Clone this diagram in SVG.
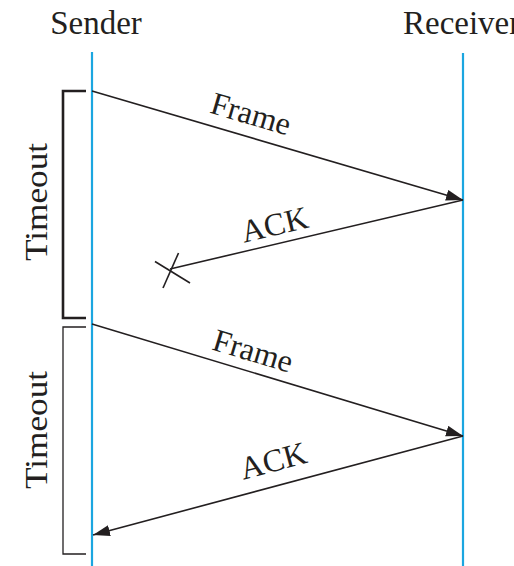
<svg xmlns="http://www.w3.org/2000/svg" width="514" height="566" viewBox="0 0 514 566">
<style>
text{font-family:"Liberation Serif","DejaVu Serif",serif;fill:#231f20}
.title{font-size:33px}
.lbl{font-size:32px}
.life{stroke:#1ba6e0;stroke-width:2.2;fill:none}
.msg{stroke:#231f20;stroke-width:1.6;fill:none}
</style>
<defs>
<marker id="ah" markerUnits="userSpaceOnUse" markerWidth="18" markerHeight="12" refX="17" refY="5.5" orient="auto">
<path d="M0,0 L17,5.5 L0,11 Z" fill="#231f20"/>
</marker>
</defs>
<g id="sender">
<text class="title" x="96" y="34" text-anchor="middle">Sender</text>
<line class="life" x1="92" y1="52" x2="92" y2="566"/>
</g>
<g id="receiver">
<text class="title" x="403" y="34">Receiver</text>
<line class="life" x1="463" y1="53" x2="463" y2="566"/>
</g>
<g id="timeout1">
<path d="M86,91 H63 V318 H86" fill="none" stroke="#231f20" stroke-width="2.6"/>
<text class="lbl" transform="translate(47,202) rotate(-90)" text-anchor="middle" textLength="118" lengthAdjust="spacingAndGlyphs">Timeout</text>
</g>
<g id="timeout2">
<path d="M86,327 H63 V554 H86" fill="none" stroke="#231f20" stroke-width="1.3"/>
<text class="lbl" transform="translate(47,430) rotate(-90)" text-anchor="middle" textLength="118" lengthAdjust="spacingAndGlyphs">Timeout</text>
</g>
<g id="connectors">
<line class="msg" x1="92" y1="91" x2="463" y2="200" marker-end="url(#ah)"/>
<line class="msg" x1="463" y1="200" x2="170" y2="269"/>
<line class="msg" x1="155" y1="261.5" x2="190" y2="283"/>
<line class="msg" x1="178.5" y1="253" x2="163" y2="288"/>
<line class="msg" x1="92" y1="324" x2="463" y2="436" marker-end="url(#ah)"/>
<line class="msg" x1="463" y1="436" x2="93" y2="535" marker-end="url(#ah)"/>
</g>
<g id="labels">
<text class="lbl" transform="translate(248,124) rotate(16.4)" text-anchor="middle">Frame</text>
<text class="lbl" transform="translate(277,235) rotate(-13.3)" text-anchor="middle">ACK</text>
<text class="lbl" transform="translate(250,361) rotate(16.8)" text-anchor="middle">Frame</text>
<text class="lbl" transform="translate(276,471) rotate(-14.9)" text-anchor="middle">ACK</text>
</g>
</svg>
